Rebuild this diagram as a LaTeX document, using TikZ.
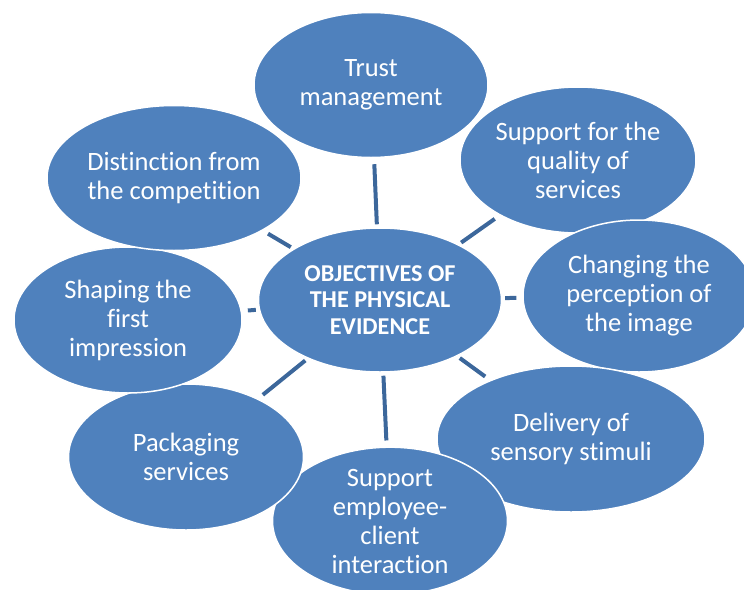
\documentclass[tikz,border=0pt]{standalone}
\usepackage{fontspec}
\setmainfont{Carlito}[RawFeature=-liga]
\usetikzlibrary{shapes.geometric}
\definecolor{fillblue}{RGB}{79,129,189}
\definecolor{connblue}{RGB}{60,103,155}
\begin{document}
\begin{tikzpicture}[x=1pt,y=-1pt,
  sat/.style={ellipse, fill=fillblue, draw=white, line width=1.5pt, inner sep=0pt,
    text=white, align=center, font=\fontsize{26.5}{29}\selectfont},
  hub/.style={sat, font=\fontsize{24.2}{26.5}\selectfont\bfseries},
  conn/.style={draw=connblue, line width=4pt, shorten <=3pt, shorten >=6pt}]
\useasboundingbox (0,0) rectangle (744,589);
\node[sat, minimum width=234pt, minimum height=145pt] (trust) at (371,85) {Trust\\management};
\node[sat, minimum width=236pt, minimum height=146pt] (quality) at (578,160) {Support for the\\quality of\\services};
\node[sat, minimum width=232pt, minimum height=152pt] (image) at (639,296) {Changing the\\perception of\\the image};
\node[sat, minimum width=268pt, minimum height=146pt] (stimuli) at (571,439) {Delivery of\\sensory stimuli};
\node[sat, minimum width=235pt, minimum height=146pt] (interact) at (390,521) {Support\\employee-\\client\\interaction};
\node[sat, minimum width=235pt, minimum height=146pt] (packaging) at (186,457) {Packaging\\services};
\node[sat, minimum width=228pt, minimum height=146pt] (shaping) at (128,320) {Shaping the\\first\\impression};
\node[sat, minimum width=254pt, minimum height=145pt] (distinct) at (174,178) {Distinction from\\the competition};
\node[hub, minimum width=243pt, minimum height=144pt] (hub) at (380,300) {OBJECTIVES OF\\THE PHYSICAL\\EVIDENCE};
\foreach \s in {trust,quality,image,stimuli,interact,packaging,shaping,distinct}
  \draw[conn] (hub) -- (\s);
\end{tikzpicture}
\end{document}
